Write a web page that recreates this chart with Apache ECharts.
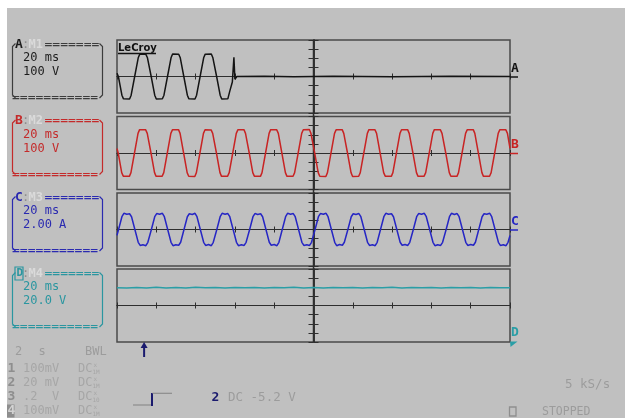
<!DOCTYPE html>
<html><head><meta charset="utf-8">
<script src="https://cdn.jsdelivr.net/npm/echarts@6/dist/echarts.min.js"></script>
<style>
html,body{margin:0;padding:0;background:#fff;}
#wrap{position:relative;width:625px;height:418px;background:#fff;overflow:hidden;}
#bg{position:absolute;left:7px;top:8px;right:0;bottom:0;background:#c0c0c0;}
#c{position:absolute;left:0;top:0;width:625px;height:418px;}
</style></head><body>
<div id="wrap"><div id="bg"></div><div id="c"></div></div>
<script>
// ---- data (time in ms relative to screen centre, 20 ms/div) ----
const channelLetters = ['A', 'B', 'C', 'D'];
const memoryNames = ['M1', 'M2', 'M3', 'M4'];
const timeDivLabels = ['20 ms', '20 ms', '20 ms', '20 ms'];
const scaleLabels = ['100 V', '100 V', '2.00 A', '20.0 V'];
const unitsPerDiv = [100, 100, 2, 20];
const timeRange = [-100, 100];
const timePerDiv = 20;
const triggerTime = -86.2;

const traceA = [[-100,35],
 [-99.3,0],[-97.5,-205],[-96.7,-245],[-93.6,-247],[-92.8,-205],[-91.0,0],[-89.2,205],[-88.4,245],[-85.3,243],[-84.5,205],
 [-82.6,0],[-80.8,-205],[-80.0,-246],[-76.9,-244],[-76.1,-205],[-74.3,0],[-72.5,205],[-71.7,246],[-68.6,244],[-67.8,205],
 [-66.0,0],[-64.2,-205],[-63.4,-245],[-60.3,-247],[-59.5,-205],[-57.7,0],[-55.9,205],[-55.1,245],[-52.0,246],[-51.2,205],
 [-49.3,0],[-47.5,-205],[-46.7,-246],[-43.6,-245],[-42.6,-160],[-41.3,-60],[-40.7,-40],[-40.5,210],[-40.2,195],[-40.0,-30],[-39.5,-15],[-39.0,0],
 [-25,3],[-10,-2],[10,2],[40,-2],[70,3],[100,0]];

const traceB = [[-100,50],
 [-99.4,0],[-97.6,-215],[-96.8,-254],[-93.7,-256],[-92.9,-215],[-91.1,0],[-89.3,215],[-88.5,256],[-85.4,254],[-84.6,215],
 [-82.7,0],[-80.9,-215],[-80.1,-256],[-77.0,-254],[-76.2,-215],[-74.4,0],[-72.6,215],[-71.8,254],[-68.7,256],[-67.9,215],
 [-66.1,0],[-64.3,-215],[-63.5,-255],[-60.4,-257],[-59.6,-215],[-57.8,0],[-56.0,215],[-55.2,255],[-52.1,253],[-51.3,215],
 [-49.4,0],[-47.6,-215],[-46.8,-256],[-43.7,-254],[-42.9,-215],[-41.1,0],[-39.3,215],[-38.5,254],[-35.4,256],[-34.6,215],
 [-32.7,0],[-30.9,-215],[-30.1,-254],[-27.0,-256],[-26.2,-215],[-24.4,0],[-22.6,215],[-21.8,256],[-18.7,254],[-17.9,215],
 [-16.1,0],[-14.3,-215],[-13.5,-256],[-10.4,-255],[-9.6,-215],[-7.8,0],[-6.0,215],[-5.2,255],[-2.1,257],[-1.3,215],
 [0.6,0],[2.4,-215],[3.2,-255],[6.3,-257],[7.1,-215],[8.9,0],[10.7,215],[11.5,254],[14.6,256],[15.4,215],
 [17.3,0],[19.1,-215],[19.9,-257],[23.0,-255],[23.8,-215],[25.6,0],[27.4,215],[28.2,256],[31.3,254],[32.1,215],
 [33.9,0],[35.7,-215],[36.5,-254],[39.6,-256],[40.4,-215],[42.2,0],[44.0,215],[44.8,255],[47.9,256],[48.7,215],
 [50.6,0],[52.4,-215],[53.2,-256],[56.3,-254],[57.1,-215],[58.9,0],[60.7,215],[61.5,256],[64.6,254],[65.4,215],
 [67.3,0],[69.1,-215],[69.9,-255],[73.0,-256],[73.8,-215],[75.6,0],[77.4,215],[78.2,254],[81.3,256],[82.1,215],
 [83.9,0],[85.7,-215],[86.5,-256],[89.6,-255],[90.4,-215],[92.2,0],[94.0,215],[94.8,255],[97.9,254],[98.7,215],
 [100,50]];

const traceC = [[-100,-1.3],
 [-99.2,0],[-97.5,2.8],[-96.5,3.55],[-95.0,3.35],[-93.6,3.45],[-92.6,2.8],[-90.9,0],[-89.2,-2.8],[-88.2,-3.5],[-86.8,-3.35],[-85.3,-3.55],[-84.3,-2.8],
 [-82.5,0],[-80.8,2.8],[-79.8,3.5],[-78.3,3.35],[-76.9,3.55],[-75.9,2.8],[-74.2,0],[-72.5,-2.8],[-71.5,-3.55],[-70.1,-3.35],[-68.6,-3.45],[-67.6,-2.8],
 [-65.9,0],[-64.2,2.8],[-63.2,3.45],[-61.7,3.3],[-60.3,3.55],[-59.3,2.8],[-57.6,0],[-55.9,-2.8],[-54.9,-3.5],[-53.4,-3.3],[-52.0,-3.55],[-51.0,-2.8],
 [-49.2,0],[-47.5,2.8],[-46.5,3.55],[-45.0,3.35],[-43.6,3.5],[-42.6,2.8],[-40.9,0],[-39.2,-2.8],[-38.2,-3.55],[-36.7,-3.35],[-35.3,-3.5],[-34.3,-2.8],
 [-32.5,0],[-30.8,2.8],[-29.8,3.5],[-28.4,3.3],[-26.9,3.45],[-25.9,2.8],[-24.2,0],[-22.5,-2.8],[-21.5,-3.45],[-20.0,-3.3],[-18.6,-3.55],[-17.6,-2.8],
 [-15.9,0],[-14.2,2.8],[-13.2,3.55],[-11.7,3.35],[-10.3,3.5],[-9.3,2.8],[-7.6,0],[-5.9,-2.8],[-4.9,-3.5],[-3.4,-3.35],[-2.0,-3.5],[-1.0,-2.8],
 [0.8,0],[2.5,2.8],[3.5,3.5],[5.0,3.35],[6.4,3.55],[7.4,2.8],[9.1,0],[10.8,-2.8],[11.8,-3.55],[13.2,-3.3],[14.7,-3.45],[15.7,-2.8],
 [17.5,0],[19.2,2.8],[20.2,3.45],[21.6,3.3],[23.1,3.5],[24.1,2.8],[25.8,0],[27.5,-2.8],[28.5,-3.5],[30.0,-3.35],[31.4,-3.55],[32.4,-2.8],
 [34.1,0],[35.8,2.8],[36.8,3.55],[38.2,3.35],[39.7,3.45],[40.7,2.8],[42.4,0],[44.1,-2.8],[45.1,-3.45],[46.6,-3.3],[48.0,-3.5],[49.0,-2.8],
 [50.8,0],[52.5,2.8],[53.5,3.5],[55.0,3.35],[56.4,3.55],[57.4,2.8],[59.1,0],[60.8,-2.8],[61.8,-3.55],[63.2,-3.35],[64.7,-3.5],[65.7,-2.8],
 [67.5,0],[69.2,2.8],[70.2,3.55],[71.7,3.3],[73.1,3.5],[74.1,2.8],[75.8,0],[77.5,-2.8],[78.5,-3.5],[80.0,-3.3],[81.4,-3.45],[82.4,-2.8],
 [84.1,0],[85.8,2.8],[86.8,3.45],[88.2,3.35],[89.7,3.55],[90.7,2.8],[92.4,0],[94.1,-2.8],[95.1,-3.5],[96.6,-3.35],[98.0,-3.55],[99.0,-2.8],
 [100,-1.3]];

const traceDTimes = [-100,-95,-90,-85,-80,-75,-70,-65,-60,-55,-50,-45,-40,-35,-30,-25,-20,-15,-10,-5,0,
 5,10,15,20,25,30,35,40,45,50,55,60,65,70,75,80,85,90,95,100];
const traceDValues = [39.0,38.2,39.6,38.5,39.8,38.4,39.5,38.6,39.9,38.7,39.4,38.3,39.7,38.8,39.2,38.5,39.6,38.9,39.8,38.6,39.3,
 38.4,39.7,38.9,39.5,38.2,39.6,38.7,39.9,38.5,39.4,38.8,39.6,38.6,39.3,38.9,39.7,38.5,39.4,38.7,39.1];

const inputNumbers = ['1', '2', '3', '4'];
const inputScales = ['100mV', '20 mV', '.2  V', '100mV'];
const inputCoupling = ['DC', 'DC', 'DC', 'DC'];
const inputProbe = ['1M', '1M', '10', '1M'];

// ---- styling ----
const MONO = '"DejaVu Sans Mono", monospace';
const traceColors = ['#141414', '#c82424', '#2626c4', '#2a9ea6'];
const textColors = ['#1c1c1c', '#c42a2a', '#2a2ab0', '#2a96a0'];
const eqColors = ['#3c3c3c', '#c42a2a', '#2a2ab0', '#2a96a0'];
const gridLeft = 117, gridWidth = 393, gridHeight = 73;
const gridTops = [40, 116.5, 193, 269];
const axisCol = '#2e2e2e';

const traceD = traceDTimes.map((t, i) => [t, traceDValues[i]]);
const traces = [traceA, traceB, traceC, traceD];

const grids = [], xAxes = [], yAxes = [], series = [];
for (let i = 0; i < 4; i++) {
  grids.push({left: gridLeft, top: gridTops[i], width: gridWidth, height: gridHeight,
    show: true, borderColor: '#4a4a4a', borderWidth: 1.5, backgroundColor: 'rgba(0,0,0,0)', containLabel: false});
  const ymax = unitsPerDiv[i] * 4;
  ['bottom', 'top'].forEach(pos => xAxes.push({gridIndex: i, type: 'value', min: timeRange[0], max: timeRange[1],
    interval: timePerDiv, position: pos,
    axisLine: {show: true, onZero: true, lineStyle: {color: axisCol, width: 1}},
    axisTick: {show: true, inside: true, length: 3, lineStyle: {color: axisCol, width: 1}},
    axisLabel: {show: false}, splitLine: {show: false}}));
  ['left', 'right'].forEach(pos => yAxes.push({gridIndex: i, type: 'value', min: -ymax, max: ymax,
    interval: unitsPerDiv[i], position: pos,
    axisLine: {show: true, onZero: true, lineStyle: {color: axisCol, width: 1.5}},
    axisTick: {show: true, inside: true, length: 5, lineStyle: {color: axisCol, width: 1}},
    axisLabel: {show: false}, splitLine: {show: false}}));
  series.push({type: 'line', xAxisIndex: 2 * i, yAxisIndex: 2 * i, data: traces[i],
    showSymbol: false, symbol: 'none', silent: true, z: 5,
    lineStyle: {color: traceColors[i], width: 1.5}, itemStyle: {color: traceColors[i]}});
}

const chart = echarts.init(document.getElementById('c'), null, {renderer: 'canvas'});
chart.setOption({animation: false, backgroundColor: 'rgba(0,0,0,0)', grid: grids, xAxis: xAxes, yAxis: yAxes, series: series});

// ---- annotations ----
const e = [];
function T(x, y, text, fill, size, weight, family) {
  e.push({type: 'text', x: x, y: y, z: 50, silent: true,
    style: {text: text, fill: fill, fontSize: size, fontFamily: family || MONO, fontWeight: weight || 'normal',
      textAlign: 'left', textVerticalAlign: 'middle', align: 'left', verticalAlign: 'middle'}});
}
function L(x1, y1, x2, y2, stroke, w, z) {
  e.push({type: 'line', z: z == null ? 50 : z, silent: true, shape: {x1, y1, x2, y2}, style: {stroke: stroke, lineWidth: w}});
}
function P(points, stroke, w) {
  e.push({type: 'polyline', z: 50, silent: true, shape: {points: points}, style: {stroke: stroke, lineWidth: w, fill: null}});
}
function G(points, fill) {
  e.push({type: 'polygon', z: 50, silent: true, shape: {points: points}, style: {fill: fill}});
}
function R(x, y, w, h, stroke, fill, lw) {
  e.push({type: 'rect', z: 49, silent: true, shape: {x: x, y: y, width: w, height: h},
    style: {stroke: stroke, fill: fill, lineWidth: lw || 1}});
}

// centre vertical line through the gaps
const cx = chart.convertToPixel({xAxisIndex: 0}, 0);
L(cx, gridTops[0], cx, gridTops[3] + gridHeight, axisCol, 1.5, 1);

// channel info boxes
for (let i = 0; i < 4; i++) {
  const pt = gridTops[i], bt = pt + 3.5, bb = pt + 58, hy = pt + 4.5;
  const col = textColors[i], eq = eqColors[i];
  P([[15.5, bt], [12.5, bt + 3], [12.5, bb - 3], [15.5, bb]], eq, 1.2);
  P([[99.5, bt], [102.5, bt + 3], [102.5, bb - 3], [99.5, bb]], eq, 1.2);
  if (i === 3) { R(15, hy - 6.5, 8, 13, col, null, 1.2); T(16.5, hy, channelLetters[i], col, 11, 'bold'); }
  else T(15, hy, channelLetters[i], col, 13, 'bold');
  T(22, hy, ':', '#8e8e8e', 12);
  T(28.5, hy, memoryNames[i], '#dadada', 12, 'bold');
  T(44.5, hy, '=======', eq, 13);
  T(23, pt + 18, timeDivLabels[i], col, 12);
  T(23, pt + 32, scaleLabels[i], col, 12);
  T(12, bb, '===========', eq, 13);
}

// right-hand channel markers
for (let i = 0; i < 3; i++) {
  const zy = chart.convertToPixel({yAxisIndex: 2 * i}, 0);
  T(511, zy - 8, channelLetters[i], traceColors[i], 13, 'bold');
  L(510, zy + 0.5, 518, zy + 0.5, traceColors[i], 1.5);
}
T(511, 333, 'D', traceColors[3], 13, 'bold');
G([[510, 341.5], [517.5, 341.5], [510.5, 347]], traceColors[3]);

// LeCroy logo
T(118, 48, 'LeCroy', '#111', 10, 'bold', '"DejaVu Sans", sans-serif');
L(118, 53.5, 156, 53.5, '#111', 1.5);

// trigger arrow
const tx = chart.convertToPixel({xAxisIndex: 6}, triggerTime);
L(tx, 346, tx, 357, '#1a1a6e', 2);
G([[tx - 3.5, 348], [tx + 3.5, 348], [tx, 342]], '#1a1a6e');

// bottom-left status
const gray = '#9c9c9c', gray2 = '#a6a6a6';
T(15, 352, '2', gray, 12); T(38.5, 352, 's', gray, 12); T(85, 352, 'BWL', gray, 12);
const rowY = [369, 383, 397, 411];
for (let i = 0; i < 4; i++) {
  const y = rowY[i];
  if (i === 3) { R(7, y - 6.5, 7.5, 13, null, '#8e8e8e'); T(7.5, y, inputNumbers[i], '#d2d2d2', 13, 'bold'); }
  else T(7.5, y, inputNumbers[i], '#8e8e8e', 13, 'bold');
  T(23, y, inputScales[i], gray2, 12);
  T(78, y, inputCoupling[i], gray2, 12);
  T(93.5, y - 3.5, 'x', gray2, 6);
  T(92.5, y + 3, inputProbe[i], gray2, 6);
}

// trigger symbol and level
L(133, 405, 151.5, 405, '#8c8c8c', 1.2);
L(152, 393, 152, 406, '#1a1a6e', 2);
L(152.5, 393.3, 172, 393.3, '#8c8c8c', 1.2);
T(211.5, 398, '2', '#1a1a6e', 13, 'bold');
T(228, 398, 'DC -5.2 V', gray, 12.5);

// right status
T(565, 385, '5 kS/s', gray, 12.5);
R(509.5, 407, 6.5, 9, '#8e8e8e', null, 1.3);
T(542, 412, 'STOPPED', gray, 11.5);

chart.setOption({graphic: {elements: e}});
</script>
</body></html>
